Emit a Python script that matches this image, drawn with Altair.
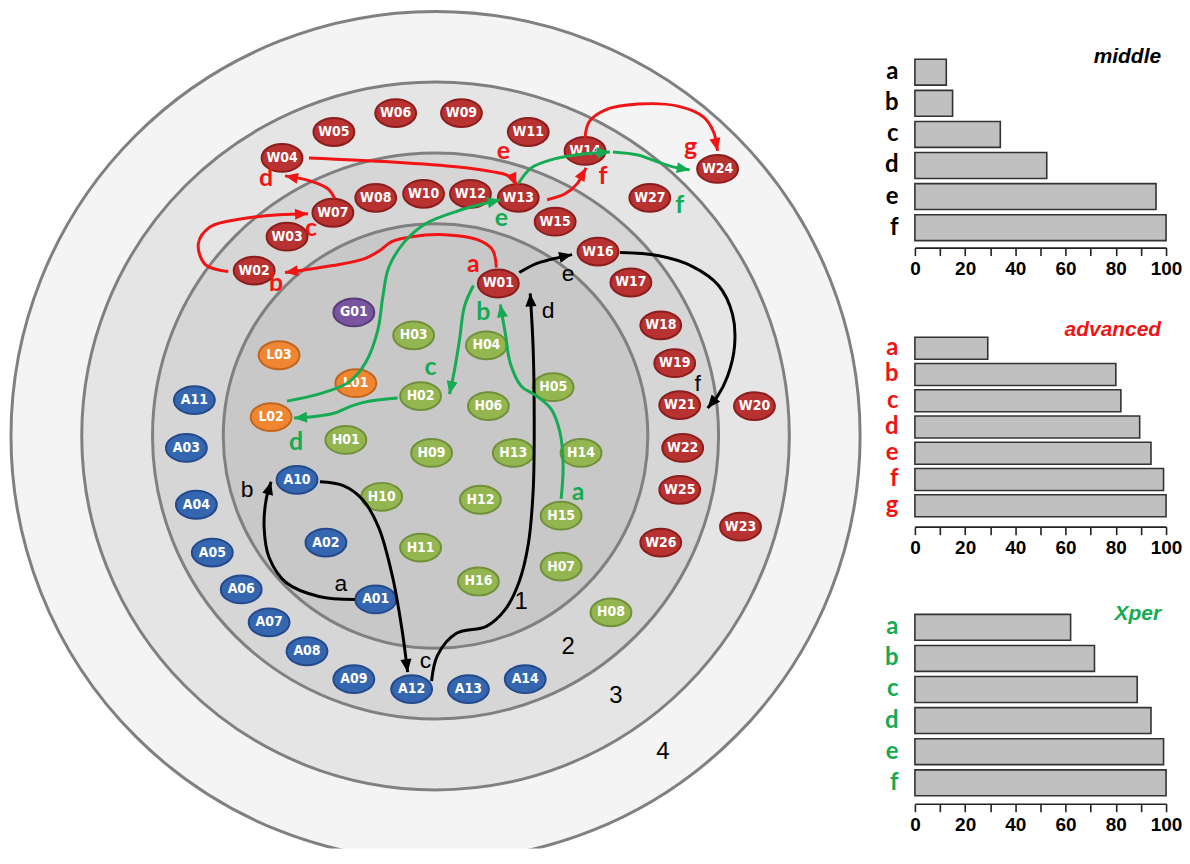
import math
import altair as alt
import pandas as pd

# ------------------------------------------------------------------ data
# concentric zones (outer -> inner)
ring_id = [4, 3, 2, 1]
ring_radius = [426, 355, 284, 213]
ring_fill = ["#f4f4f4", "#e5e5e5", "#d6d6d6", "#c8c8c8"]
ring_cx = 437
ring_cy = 436

ring_text = ["1", "2", "3", "4"]
ring_text_x = [523, 570, 618, 665]
ring_text_y = [603, 648, 697, 753]

node_id = ["W01", "W02", "W03", "W04", "W05", "W06", "W07", "W08", "W09", "W10",
           "W11", "W12", "W13", "W14", "W15", "W16", "W17", "W18", "W19", "W20",
           "W21", "W22", "W23", "W24", "W25", "W26", "W27",
           "G01", "L01", "L02", "L03",
           "H01", "H02", "H03", "H04", "H05", "H06", "H07", "H08", "H09", "H10",
           "H11", "H12", "H13", "H14", "H15", "H16",
           "A01", "A02", "A03", "A04", "A05", "A06", "A07", "A08", "A09", "A10",
           "A11", "A12", "A13", "A14"]
node_x = [500, 255, 288, 283, 335, 397, 334, 377, 463, 425,
          530, 472, 520, 587, 557, 600, 633, 663, 677, 757,
          682, 685, 743, 720, 682, 663, 652,
          355, 357, 272, 280,
          347, 422, 415, 488, 555, 490, 563, 613, 433, 383,
          422, 482, 515, 583, 563, 480,
          377, 327, 187, 197, 213, 242, 270, 308, 355, 298,
          195, 413, 470, 527]
node_y = [283, 270, 236, 157, 131, 112, 212, 197, 112, 193,
          131, 193, 197, 150, 221, 251, 282, 325, 363, 406,
          405, 448, 527, 168, 490, 543, 197,
          312, 383, 417, 355,
          440, 396, 335, 345, 387, 406, 567, 613, 453, 497,
          548, 500, 453, 453, 516, 582,
          600, 543, 448, 505, 553, 590, 623, 652, 680, 480,
          400, 690, 690, 680]
group_fill = {"W": "#b83232", "G": "#7a559f", "L": "#f08532", "H": "#94b650", "A": "#3567b0"}
group_stroke = {"W": "#8b1d1d", "G": "#573b78", "L": "#c0661f", "H": "#71903a", "A": "#24498a"}

BLACK = "#000000"
RED = "#f01414"
GREEN = "#14ab52"

# paths (waypoints), last point = arrow tip
black_a = [(356, 600), (320, 597), (287, 583), (270, 558), (265, 528), (267, 500), (272, 482)]
black_b = [(321, 482), (345, 486), (364, 500), (380, 528), (394, 578), (403, 628), (409, 673)]
black_cd = [(433, 682), (439, 656), (458, 634), (488, 627), (507, 610), (521, 582), (530, 545),
            (535, 490), (536, 420), (535, 350), (532, 293)]
black_e = [(521, 272), (538, 263), (552, 259), (574, 254)]
black_f = [(622, 252), (660, 255), (695, 266), (721, 285), (735, 314), (737, 346), (730, 376),
           (720, 396), (710, 408)]
red_ab = [(498, 267), (494, 249), (479, 239), (446, 234), (413, 236), (393, 241), (381, 250),
          (366, 258), (334, 265), (301, 270), (286, 272)]
red_c = [(229, 271), (206, 264), (199, 243), (211, 226), (243, 218), (280, 214), (309, 213)]
red_d = [(336, 198), (329, 188), (311, 180), (286, 175)]
red_e = [(310, 157), (393, 161), (460, 166), (495, 171), (508, 174), (515, 178), (518, 185)]
red_f = [(549, 199), (567, 193), (579, 183), (588, 167)]
red_g = [(587, 137), (591, 121), (607, 109), (640, 103), (680, 105), (706, 116), (716, 131), (720, 150)]
green_ab = [(563, 499), (565, 466), (562, 433), (553, 409), (537, 395), (523, 386), (512, 363),
            (507, 333), (504, 316), (502, 304)]
green_c = [(475, 285), (466, 306), (461, 340), (456, 370), (451, 394)]
green_d = [(399, 398), (366, 402), (350, 407), (336, 413), (311, 417), (295, 418)]
green_e = [(288, 401), (323, 393), (350, 382), (367, 362), (379, 330), (384, 297), (390, 267),
           (406, 241), (427, 223), (460, 210), (485, 203), (502, 199)]
green_f1 = [(520, 183), (533, 167), (556, 158), (585, 153), (612, 151)]
green_f2 = [(615, 151), (640, 154), (657, 160), (675, 166), (692, 169)]

paths = [("black_a", BLACK, black_a), ("black_b", BLACK, black_b), ("black_cd", BLACK, black_cd),
         ("black_e", BLACK, black_e), ("black_f", BLACK, black_f),
         ("red_ab", RED, red_ab), ("red_c", RED, red_c), ("red_d", RED, red_d),
         ("red_e", RED, red_e), ("red_f", RED, red_f), ("red_g", RED, red_g),
         ("green_ab", GREEN, green_ab), ("green_c", GREEN, green_c), ("green_d", GREEN, green_d),
         ("green_e", GREEN, green_e), ("green_f1", GREEN, green_f1), ("green_f2", GREEN, green_f2)]

step_text = ["a", "b", "c", "d", "e", "f",
             "a", "b", "c", "d", "e", "f", "g",
             "a", "b", "c", "d", "e", "f"]
step_x = [342, 248, 427, 550, 570, 700,
          475, 277, 312, 267, 505, 605, 693,
          580, 485, 432, 297, 503, 682]
step_y = [585, 490, 662, 311, 273, 384,
          263, 283, 227, 177, 150, 175, 146,
          492, 312, 367, 442, 217, 204]
step_color = [BLACK] * 6 + [RED] * 7 + [GREEN] * 6

# bar panels
middle_cats = ["a", "b", "c", "d", "e", "f"]
middle_vals = [12.5, 15, 34, 52.5, 96, 100]
advanced_cats = ["a", "b", "c", "d", "e", "f", "g"]
advanced_vals = [29, 80, 82, 89.5, 94, 99, 100]
xper_cats = ["a", "b", "c", "d", "e", "f"]
xper_vals = [62, 71.5, 88.5, 94, 99, 100]
tick_values = [0, 10, 20, 30, 40, 50, 60, 70, 80, 90, 100]

# ------------------------------------------------------------------ left diagram
WL, HL = 862, 842
XS = alt.Scale(domain=[8, 8 + WL], nice=False, zero=False)
YS = alt.Scale(domain=[8, 8 + HL], nice=False, zero=False, reverse=True)


def xy(xf="x", yf="y"):
    return dict(x=alt.X(f"{xf}:Q", scale=XS, axis=None),
                y=alt.Y(f"{yf}:Q", scale=YS, axis=None))


rings = pd.DataFrame({"ring": ring_id, "r": ring_radius, "fill": ring_fill})
rings["x"] = ring_cx
rings["y"] = ring_cy
rings["size"] = (2 * rings["r"]) ** 2
ring_layer = alt.Chart(rings).mark_circle(
    opacity=1, stroke="#808080", strokeWidth=3, clip=True
).encode(
    **xy(),
    size=alt.Size("size:Q", scale=None),
    color=alt.Color("fill:N", scale=None),
    order=alt.Order("ring:Q", sort="descending"),
)

ring_nums = pd.DataFrame({"t": ring_text, "x": ring_text_x, "y": ring_text_y})
ring_num_layer = alt.Chart(ring_nums).mark_text(
    font="Liberation Sans", fontSize=24, color="#000000", baseline="middle", align="center"
).encode(**xy(), text="t:N")

nodes = pd.DataFrame({"id": node_id, "x": node_x, "y": node_y})
nodes["fill"] = [group_fill[i[0]] for i in node_id]
nodes["stroke"] = [group_stroke[i[0]] for i in node_id]
ELLIPSE = "M-1,0A1,0.68,0,1,1,1,0A1,0.68,0,1,1,-1,0Z"
node_layer = alt.Chart(nodes).mark_point(
    shape=ELLIPSE, filled=True, opacity=1, size=1681, strokeWidth=2
).encode(
    **xy(),
    fill=alt.Fill("fill:N", scale=None),
    stroke=alt.Stroke("stroke:N", scale=None),
)
node_text_layer = alt.Chart(nodes).mark_text(
    font="Liberation Sans Narrow, Arial Narrow, DejaVu Sans Condensed, sans-serif",
    fontSize=14, fontWeight="bold", color="white", baseline="middle", align="center"
).encode(**xy(), text="id:N")

rows = []
heads = []
for name, col, pts in paths:
    for i, (px, py) in enumerate(pts):
        rows.append({"path": name, "i": i, "x": px, "y": py, "color": col})
    (x0, y0), (x1, y1) = pts[-2], pts[-1]
    ang = math.degrees(math.atan2(x1 - x0, -(y1 - y0))) % 360
    heads.append({"path": name, "x": x1, "y": y1, "angle": ang, "color": col})
path_df = pd.DataFrame(rows)
head_df = pd.DataFrame(heads)

line_layer = alt.Chart(path_df).mark_line(
    interpolate="catmull-rom", strokeWidth=3
).encode(
    **xy(),
    detail="path:N",
    order="i:Q",
    color=alt.Color("color:N", scale=None),
)
ARROW = "M0,0L0.75,1.75L-0.75,1.75Z"
head_layer = alt.Chart(head_df).mark_point(
    shape=ARROW, filled=True, opacity=1, size=220, strokeWidth=0
).encode(
    **xy(),
    angle=alt.Angle("angle:Q", scale=None),
    color=alt.Color("color:N", scale=None),
)

steps = pd.DataFrame({"t": step_text, "x": step_x, "y": step_y, "color": step_color})
step_black = alt.Chart(steps[steps.color == BLACK]).mark_text(
    font="Liberation Sans", fontSize=23, baseline="middle", align="center"
).encode(**xy(), text="t:N", color=alt.Color("color:N", scale=None))
step_col = alt.Chart(steps[steps.color != BLACK]).mark_text(
    font="Lato", fontSize=25, fontWeight="bold", baseline="middle", align="center"
).encode(**xy(), text="t:N", color=alt.Color("color:N", scale=None))

left = alt.layer(
    ring_layer, ring_num_layer, node_layer, node_text_layer,
    line_layer, head_layer, step_black, step_col
).properties(width=WL, height=HL)


# ------------------------------------------------------------------ bar panels
def panel(cats, vals, title, color, height, r0, r1, pad, title_y):
    df = pd.DataFrame({"cat": cats, "v": vals})
    bars = alt.Chart(df).mark_bar(
        fill="#c0c0c0", stroke="#333333", strokeWidth=1.6
    ).encode(
        x=alt.X("v:Q", scale=alt.Scale(domain=[0, 100], nice=False, zero=True),
                axis=alt.Axis(values=tick_values, title=None, grid=False,
                              labelExpr="datum.value % 20 === 0 ? datum.label : ''",
                              domainColor="#222222", domainWidth=1.6,
                              tickColor="#222222", tickWidth=1.6, tickSize=8,
                              labelFont="Liberation Sans", labelFontSize=19,
                              labelFontWeight="bold", labelColor="#000000",
                              labelPadding=4, labelFlush=False, labelOverlap=False)),
        y=alt.Y("cat:N", sort=cats,
                scale=alt.Scale(range=[r0, r1], paddingInner=pad, paddingOuter=pad / 2),
                axis=alt.Axis(title=None, domain=False, ticks=False, tickSize=0, grid=False,
                              labelFont="Lato", labelFontSize=24, labelFontWeight="bold",
                              labelColor=color, labelPadding=17)),
    )
    tdf = pd.DataFrame({"t": [title]})
    ttl = alt.Chart(tdf).mark_text(
        font="Liberation Sans", fontSize=21, fontStyle="italic", fontWeight="bold",
        align="right", baseline="alphabetic", color=color
    ).encode(text="t:N", x=alt.value(247), y=alt.value(title_y))
    return alt.layer(bars, ttl).properties(width=252, height=height)


p_mid = panel(middle_cats, middle_vals, "middle", "#000000", 239, 47.4, 234.6, 1 / 6, 53.7)
p_adv = panel(advanced_cats, advanced_vals, "advanced", RED, 280, 87.8, 272.2, 0.164, 89)
p_xp = panel(xper_cats, xper_vals, "Xper", GREEN, 278, 85.4, 272.6, 1 / 6, 94)

right = alt.vconcat(p_mid, p_adv, p_xp, spacing=0, bounds="flush")

chart = alt.hconcat(left, right, spacing=17).properties(padding=0).configure_view(stroke=None)

chart.save("out.html", embed_options={"renderer": "svg", "actions": False})
